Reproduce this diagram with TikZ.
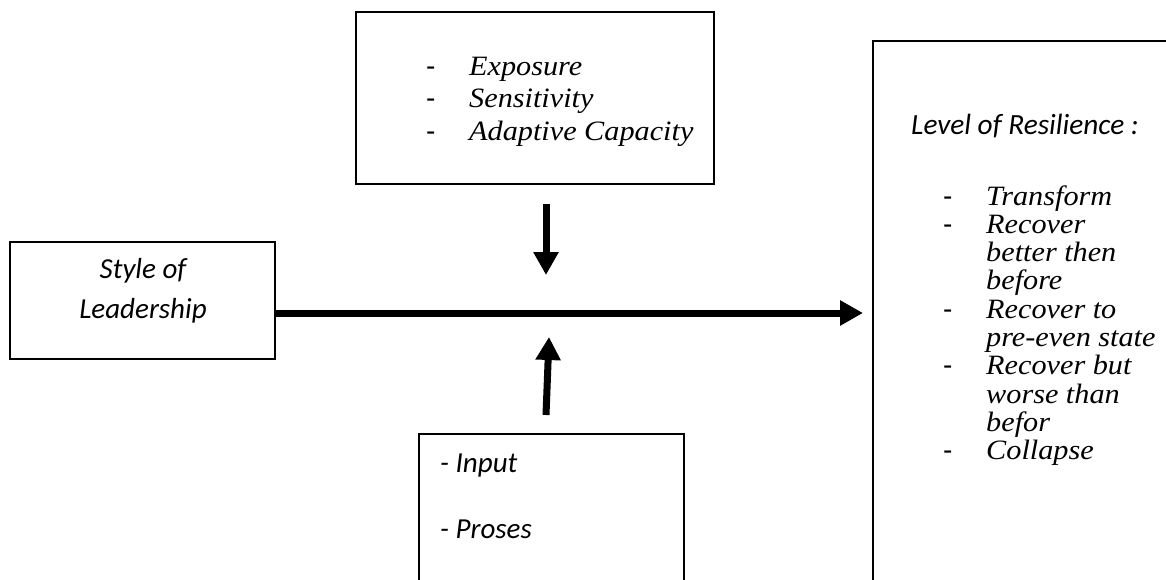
\documentclass[tikz,border=0pt]{standalone}
\usepackage{fontspec}
\setmainfont{Liberation Serif}[FakeStretch=1.08]
\newfontfamily\calfont{Carlito}
\newfontfamily\dashfont{Liberation Sans}
\usetikzlibrary{arrows.meta}
\newcommand{\dsh}{\makebox[43pt][l]{\dashfont -}}
\begin{document}
\begin{tikzpicture}[x=1pt,y=-1pt,
  box/.style={draw=black,line width=1.8pt,inner sep=0pt},
  bigarrow/.style={line width=7pt,-{Triangle[length=23pt,width=24pt]}},
  lbl/.style={inner sep=0pt,anchor=base west,align=left}]
\useasboundingbox (0,0) rectangle (1166,579);
\clip (0,0) rectangle (1166,579);
\fill[white] (0,0) rectangle (1166,579);
% boxes
\node[box,anchor=north west,minimum width=358pt,minimum height=172pt] (topbox) at (355,11) {};
\node[box,anchor=north west,minimum width=265pt,minimum height=117pt] (leftbox) at (9,241) {};
\node[box,anchor=north west,minimum width=400pt,minimum height=600pt] (rightbox) at (872,40) {};
\node[box,anchor=north west,minimum width=265pt,minimum height=200pt] (botbox) at (418,433) {};
% texts
\node[lbl] (toptext) at (426,75) {\fontsize{28}{32.5}\selectfont
  \begin{tabular}[t]{@{}l@{}l@{}}
  \dsh & \textit{Exposure}\\
  \dsh & \textit{Sensitivity}\\
  \dsh & \textit{Adaptive Capacity}
  \end{tabular}};
\node[inner sep=0pt,anchor=base] (lefttext) at (143,278) {\calfont\itshape\fontsize{29}{40}\selectfont
  \begin{tabular}[t]{@{}c@{}}Style of\\Leadership\end{tabular}};
\node[lbl] (restitle) at (911,134) {\calfont\itshape\fontsize{29.3}{30}\selectfont Level of Resilience :};
\node[lbl] (reslist) at (943,205) {\fontsize{28}{28.3}\selectfont
  \begin{tabular}[t]{@{}l@{}l@{}}
  \dsh & \textit{Transform}\\
  \dsh & \textit{Recover}\\
       & \textit{better then}\\
       & \textit{before}\\
  \dsh & \textit{Recover to}\\
       & \textit{pre-even state}\\
  \dsh & \textit{Recover but}\\
       & \textit{worse than}\\
       & \textit{befor}\\
  \dsh & \textit{Collapse}
  \end{tabular}};
\node[lbl] (bottext) at (440,472) {\calfont\itshape\fontsize{29}{66}\selectfont
  \begin{tabular}[t]{@{}l@{}}- Input\\- Proses\end{tabular}};
% arrows
\coordinate (hend) at (863,313);
\coordinate (dstart) at (546,204);
\coordinate (dend) at (546,275);
\coordinate (ustart) at (546,415);
\coordinate (uend) at (549,337);
\draw[bigarrow] (leftbox.east |- hend) -- (hend);
\draw[bigarrow] (dstart) -- (dend);
\draw[bigarrow] (ustart) -- (uend);
\end{tikzpicture}
\end{document}
